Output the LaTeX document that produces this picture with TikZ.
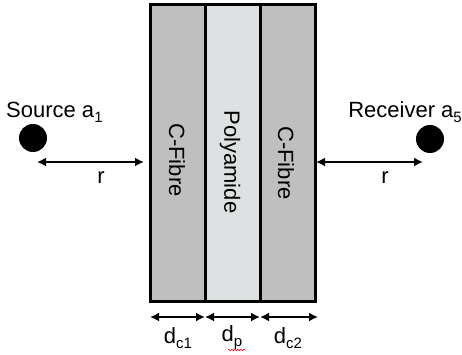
\documentclass[tikz,border=0pt]{standalone}
\usepackage{fontspec}
\setmainfont{Liberation Sans}
\usetikzlibrary{arrows.meta,decorations.pathmorphing}
\definecolor{cfib}{RGB}{191,191,191}
\definecolor{poly}{RGB}{221,225,225}
\newcommand{\mysub}[1]{\raisebox{-0.22em}{\fontsize{15}{15}\selectfont #1}}
\tikzset{
  layer/.style={draw=black, line width=3pt, minimum width=55pt, minimum height=296pt, inner sep=0pt},
  dim/.style={line width=1.8pt, {Latex[length=9pt,width=9pt]}-{Latex[length=9pt,width=9pt]}},
  lbl/.style={font=\fontsize{22}{22}\selectfont, inner sep=0pt},
  dot/.style={circle, fill=black, minimum size=28pt, inner sep=0pt}
}
\begin{document}
\begin{tikzpicture}[x=1pt,y=-1pt]
\useasboundingbox (0,0) rectangle (462,355);
% layers
\node[layer, fill=cfib] (c1) at (178,153) {};
\node[layer, fill=poly] (p) at (232.5,153) {};
\node[layer, fill=cfib] (c2) at (287.5,153) {};
\node[lbl, rotate=-90] (t1) at (177,160) {C-Fibre};
\node[lbl, rotate=-90] (t2) at (230,162) {Polyamide};
\node[lbl, rotate=-90] (t3) at (286,163) {C-Fibre};
% source / receiver
\node[dot] (src) at (33,138) {};
\node[dot] (rcv) at (430,139) {};
\node[lbl, anchor=west] (srct) at (6,112) {Source a\mysub{1}};
\node[lbl, anchor=east] (rcvt) at (462,112) {Receiver a\mysub{5}};
% r arrows
\coordinate (sa) at (37,162);
\coordinate (sb) at (144,162);
\coordinate (ra) at (316,162);
\coordinate (rb) at (423,162);
\draw[dim] (sa) -- (sb);
\draw[dim] (ra) -- (rb);
\node[lbl] (r1) at (101,178) {r};
\node[lbl] (r2) at (385,178) {r};
% dimension arrows
\coordinate (d0) at (150,317);
\coordinate (d1) at (205,317);
\coordinate (d2) at (260,317);
\coordinate (d3) at (318,317);
\draw[dim] (d0) -- (d1);
\draw[dim] (d1) -- (d2);
\draw[dim] (d2) -- (d3);
\node[lbl] (l1) at (178,338) {d\mysub{c1}};
\node[lbl] (l2) at (232,338) {d\mysub{p}};
\node[lbl] (l3) at (288,338) {d\mysub{c2}};
\coordinate (w0) at (228,350);
\coordinate (w1) at (245,350);
\draw[red, line width=0.6pt, decorate, decoration={snake, amplitude=0.8pt, segment length=3pt}] (w0) -- (w1);
\end{tikzpicture}
\end{document}
